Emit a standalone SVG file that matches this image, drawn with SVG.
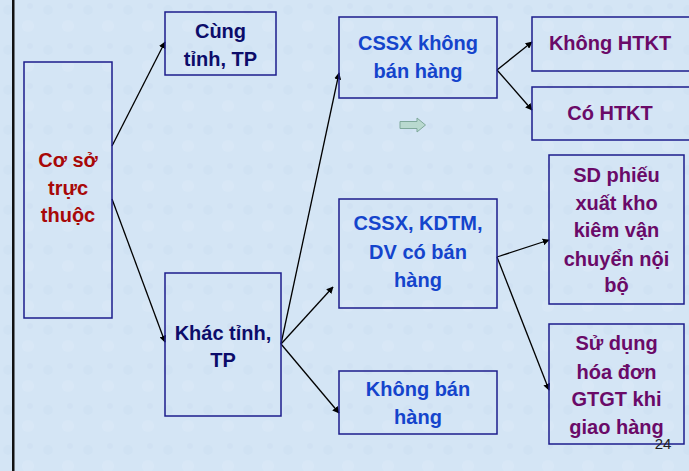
<svg xmlns="http://www.w3.org/2000/svg" width="689" height="471" viewBox="0 0 689 471">
<defs>
<marker id="ah" viewBox="0 0 10 10" refX="9" refY="5" markerWidth="7" markerHeight="7" markerUnits="userSpaceOnUse" orient="auto">
<path d="M0,0 L10,5 L0,10 z" fill="#000"/>
</marker>
<pattern id="tex" width="40" height="40" patternUnits="userSpaceOnUse">
<rect width="40" height="40" fill="#D4E5F5"/>
<circle cx="8" cy="10" r="5" fill="#CCDFF2" opacity="0.5"/>
<circle cx="28" cy="26" r="6" fill="#DCEAF8" opacity="0.5"/>
<circle cx="30" cy="6" r="3" fill="#CADDF0" opacity="0.4"/>
</pattern>
</defs>
<style>
.box{fill:none;stroke:#1C1C8C;stroke-width:1.5}
.t{font-family:"Liberation Sans",Arial,sans-serif;font-weight:bold;font-size:20px;text-anchor:middle}
.red{fill:#A80808}
.navy{fill:#0C0C6A}
.blue{fill:#1444CC}
.purple{fill:#6A0A68}
.c{stroke:#000;stroke-width:1.3;fill:none;marker-end:url(#ah)}
</style>
<rect x="0" y="0" width="689" height="471" fill="url(#tex)"/>
<rect x="12" y="0" width="2.5" height="471" fill="#111"/>

<g id="connectors">
<line class="c" x1="112" y1="146" x2="165" y2="42"/>
<line class="c" x1="112" y1="199" x2="165" y2="342"/>
<line class="c" x1="281" y1="344" x2="339" y2="73"/>
<line class="c" x1="281" y1="344" x2="333" y2="287"/>
<line class="c" x1="281" y1="344" x2="339" y2="413"/>
<line class="c" x1="497" y1="70" x2="532" y2="42"/>
<line class="c" x1="497" y1="70" x2="532" y2="110"/>
<line class="c" x1="497" y1="257" x2="549" y2="240"/>
<line class="c" x1="497" y1="257" x2="549" y2="390"/>
</g>

<g id="co-so">
<rect class="box" x="24" y="62" width="88" height="256"/>
<text class="t red" x="68" y="167">Cơ sở</text>
<text class="t red" x="68" y="195">trực</text>
<text class="t red" x="68" y="222">thuộc</text>
</g>

<g id="cung-tinh">
<rect class="box" x="165" y="12" width="111" height="63"/>
<text class="t navy" x="220.5" y="38">Cùng</text>
<text class="t navy" x="220.5" y="66">tỉnh, TP</text>
</g>

<g id="khac-tinh">
<rect class="box" x="165" y="273" width="116" height="143"/>
<text class="t navy" x="223" y="340">Khác tỉnh,</text>
<text class="t navy" x="223" y="367">TP</text>
</g>

<g id="cssx-khong">
<rect class="box" x="339" y="17" width="158" height="81"/>
<text class="t blue" x="418" y="50">CSSX không</text>
<text class="t blue" x="418" y="78">bán hàng</text>
</g>

<g id="cssx-kdtm">
<rect class="box" x="339" y="199" width="158" height="109"/>
<text class="t blue" x="418" y="230">CSSX, KDTM,</text>
<text class="t blue" x="418" y="259">DV có bán</text>
<text class="t blue" x="418" y="287">hàng</text>
</g>

<g id="khong-ban">
<rect class="box" x="339" y="371" width="158" height="63"/>
<text class="t blue" x="418" y="396">Không bán</text>
<text class="t blue" x="418" y="424">hàng</text>
</g>

<g id="khong-htkt">
<rect class="box" x="532" y="17" width="160" height="54"/>
<text class="t purple" x="610" y="50">Không HTKT</text>
</g>

<g id="co-htkt">
<rect class="box" x="532" y="87" width="160" height="53"/>
<text class="t purple" x="610" y="120">Có HTKT</text>
</g>

<g id="sd-phieu">
<rect class="box" x="549" y="155" width="135" height="149"/>
<text class="t purple" x="616.5" y="182">SD phiếu</text>
<text class="t purple" x="616.5" y="210">xuất kho</text>
<text class="t purple" x="616.5" y="237">kiêm vận</text>
<text class="t purple" x="616.5" y="266">chuyển nội</text>
<text class="t purple" x="616.5" y="292">bộ</text>
</g>

<g id="su-dung">
<rect class="box" x="549" y="324" width="135" height="120"/>
<text class="t purple" x="616.5" y="350">Sử dụng</text>
<text class="t purple" x="616.5" y="379">hóa đơn</text>
<text class="t purple" x="616.5" y="406">GTGT khi</text>
<text class="t purple" x="616.5" y="434">giao hàng</text>
</g>

<path d="M400,121.5 L417,121.5 L417,118 L425.5,125 L417,132 L417,128.5 L400,128.5 z" fill="#B9D9CF" stroke="#7FA89B" stroke-width="1"/>
<text x="663" y="449" font-family="Liberation Sans,Arial,sans-serif" font-size="15" fill="#222" text-anchor="middle">24</text>
</svg>
